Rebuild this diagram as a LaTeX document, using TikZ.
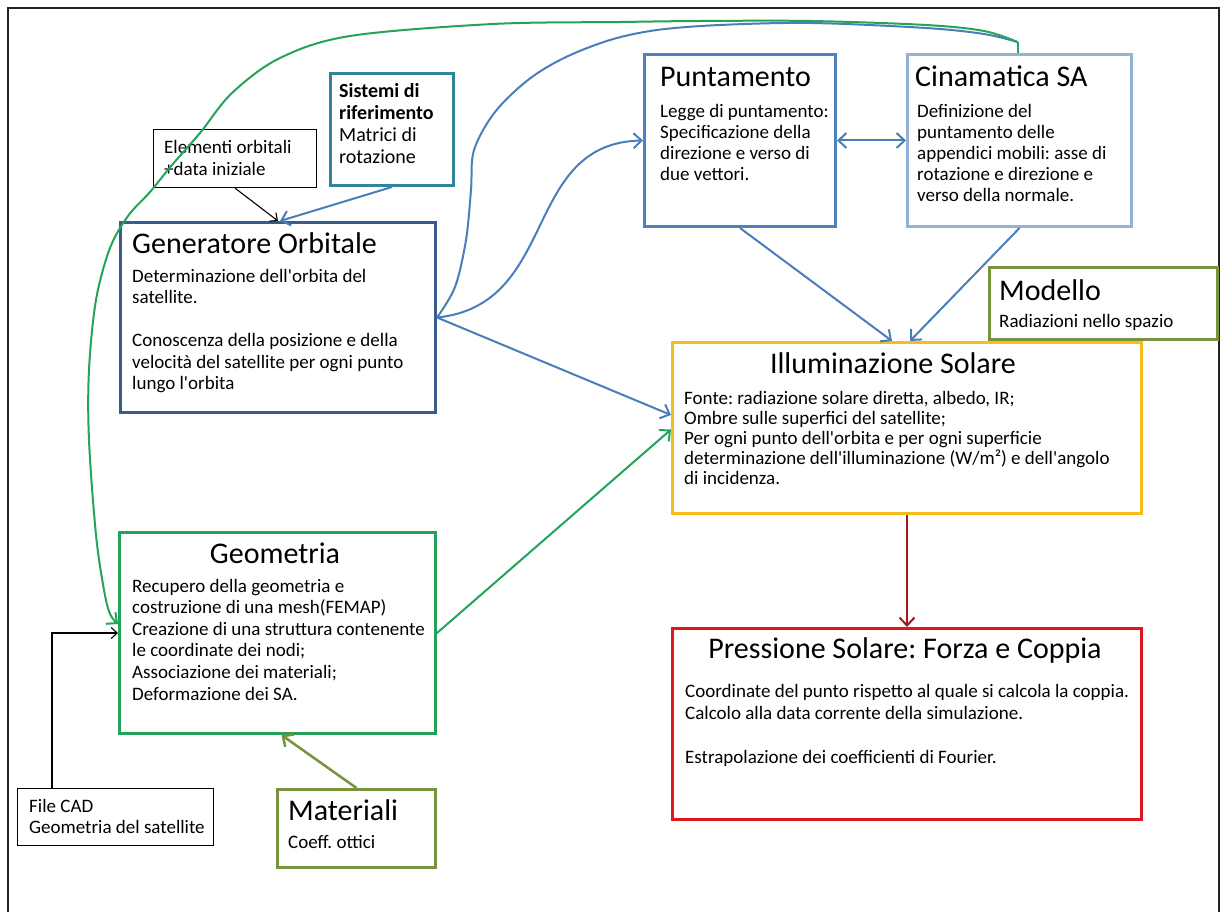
\documentclass[tikz,border=0pt]{standalone}
\usepackage{fontspec}
\setmainfont{Carlito}[Ligatures=TeXOff]
\usetikzlibrary{arrows.meta,calc}

\definecolor{framegray}{HTML}{222222}
\definecolor{genblue}{HTML}{385D8A}
\definecolor{systeal}{HTML}{31849B}
\definecolor{linkblue}{HTML}{4A7EBB}
\definecolor{puntblue}{HTML}{4F81BD}
\definecolor{cinblue}{HTML}{95B3D7}
\definecolor{modolive}{HTML}{77933C}
\definecolor{illgold}{HTML}{F5BD1F}
\definecolor{geogreen}{HTML}{24A35A}
\definecolor{pressred}{HTML}{E0161E}
\definecolor{arrowred}{HTML}{A31818}

\frenchspacing
\newcommand\ttlsize{\fontsize{30}{36}\selectfont}
\newcommand\bodysize{\fontsize{19}{21.5}\selectfont}
\newcommand\textlines[1]{\begin{tabular}[t]{@{}l@{}}#1\end{tabular}}

\tikzset{
  panel/.style={draw=#1, line width=3pt, rectangle, inner sep=0pt, anchor=north west, fill=white},
  thinpanel/.style={draw=black, line width=1.2pt, rectangle, inner sep=0pt, anchor=north west, fill=white},
  ttl/.style={font=\ttlsize, inner sep=0pt, anchor=base west},
  ttlc/.style={font=\ttlsize, inner sep=0pt, anchor=base},
  body/.style={font=\bodysize, inner sep=0pt, anchor=base west},
  tip/.style={-{Straight Barb[length=8pt,width=15pt]}},
  link/.style={draw=linkblue, line width=2pt, tip},
  curvelink/.style={draw=linkblue, line width=2pt},
  greenlink/.style={draw=geogreen, line width=2pt, tip},
  thinlink/.style={draw=black, line width=1.1pt, -{Straight Barb[length=6pt,width=11pt]}},
}

\begin{document}
\begin{tikzpicture}[x=1pt, y=-1pt]
\useasboundingbox (0,0) rectangle (1220,912);
\fill[white] (0,0) rectangle (1220,912);
\draw[framegray, line width=2pt] (8,930) -- (8,8) -- (1219,8) -- (1219,930);

% ---------- boxes ----------
\node[thinpanel, minimum width=163pt, minimum height=58pt] (elem) at (153,129) {};
\node[panel=systeal, minimum width=123pt, minimum height=112pt] (sys) at (329,72) {};
\node[panel=genblue, minimum width=315pt, minimum height=190pt] (gen) at (119,221) {};
\node[panel=puntblue, minimum width=191pt, minimum height=172pt] (punt) at (643,53) {};
\node[panel=cinblue, minimum width=224pt, minimum height=172pt] (cin) at (906,53) {};
\node[panel=modolive, minimum width=228pt, minimum height=72pt] (mod) at (988,266) {};
\node[panel=illgold, minimum width=469pt, minimum height=171pt] (ill) at (671,341) {};
\node[panel=geogreen, minimum width=316pt, minimum height=201pt] (geo) at (118,531) {};
\node[thinpanel, minimum width=196pt, minimum height=57pt] (cad) at (17,788) {};
\node[panel=modolive, minimum width=158pt, minimum height=78pt] (mat) at (276,788) {};
\node[panel=pressred, minimum width=469pt, minimum height=191pt] (press) at (671,627) {};

% ---------- texts ----------
\node[body] (elem-t) at (164,154) {\fontsize{19}{21}\selectfont\textlines{Elementi orbitali\\+data iniziale}};
\node[body] (sys-t) at (339,98) {\fontsize{20}{22}\selectfont\textlines{\textbf{Sistemi di}\\\textbf{riferimento}\\Matrici di\\rotazione}};

\node[ttl] (gen-h) at (132,253) {Generatore Orbitale};
\node[body] (gen-t) at (132,282) {\textlines{Determinazione dell'orbita del\\satellite.\\ \\Conoscenza della posizione e della\\velocità del satellite per ogni punto\\lungo l'orbita}};

\node[ttl] (punt-h) at (660,87) {Puntamento};
\node[body] (punt-t) at (660,118) {\fontsize{19}{21}\selectfont\textlines{Legge di puntamento:\\Specificazione della\\direzione e verso di\\due vettori.}};

\node[ttl] (cin-h) at (915,87) {Cinamatica SA};
\node[body] (cin-t) at (917,118) {\fontsize{19}{21}\selectfont\textlines{Definizione del\\puntamento delle\\appendici mobili: asse di\\rotazione e direzione e\\verso della normale.}};

\node[ttl] (mod-h) at (999,300) {Modello};
\node[body] (mod-t) at (999,327) {Radiazioni nello spazio};

\node[ttlc] (ill-h) at (893,373) {Illuminazione Solare};
\node[body] (ill-t) at (684,404) {\fontsize{19}{20}\selectfont\textlines{Fonte: radiazione solare diretta, albedo, IR;\\Ombre sulle superfici del satellite;\\Per ogni punto dell'orbita e per ogni superficie\\determinazione dell'illuminazione (W/m²) e dell'angolo\\di incidenza.}};

\node[ttlc] (geo-h) at (275,563) {Geometria};
\node[body] (geo-t) at (132,592) {\fontsize{19}{21.6}\selectfont\textlines{Recupero della geometria e\\costruzione di una mesh(FEMAP)\\Creazione di una struttura contenente\\le coordinate dei nodi;\\Associazione dei materiali;\\Deformazione dei SA.}};

\node[body] (cad-t) at (29,812) {\fontsize{19}{21}\selectfont\textlines{File CAD\\Geometria del satellite}};

\node[ttl] (mat-h) at (288,820) {Materiali};
\node[body] (mat-t) at (288,848) {Coeff. ottici};

\node[ttlc] (press-h) at (905,658) {Pressione Solare: Forza e Coppia};
\node[body] (press-t) at (685,697) {\fontsize{19}{22}\selectfont\textlines{Coordinate del punto rispetto al quale si calcola la coppia.\\Calcolo alla data corrente della simulazione.\\ \\Estrapolazione dei coefficienti di Fourier.}};

% ---------- connectors ----------
\coordinate (geoin) at ($(geo.west)+(0,-9)$);
\coordinate (cinjoin) at ($(cin.north)+(-2,-11)$);

% short stub on top of the kinematics box where both long curves meet
\draw[draw=geogreen, line width=2pt] (cinjoin) -- (cinjoin |- cin.north);

% curved link from the orbit generator up to the solar-array kinematics
\draw[curvelink] plot[smooth, tension=0.55] coordinates {(gen.east) (455,287) (466,240) (471,190) (474,150) (495,112) (528,80) (564,58) (610,40) (657,30) (720,25) (811,23) (926,28) (984,34) (cinjoin)};

% long green return from the kinematics to the geometry
\draw[greenlink] plot[smooth, tension=0.55] coordinates {(cinjoin) (984,31) (926,25) (811,21) (700,21) (620,22) (493,24) (350,36) (280,58) (232,93) (200,133) (172,165) (150,192) (128,216) (110,248) (96,300) (89,370) (89,440) (96,535) (104,590) (110,614) (geoin)};

\draw[thinlink] (elem.south) -- (gen.north);
\draw[link] (sys.south) -- ($(gen.north)+(2,0)$);

\draw[link] (gen.east) .. controls (560,305) and (521,143) .. (punt.west);
\draw[link] (gen.east) -- ($(ill.west)+(0,-13)$);
\draw[greenlink] (geo.east) -- ($(ill.west)+(0,1.5)$);

\draw[link, {Straight Barb[length=8pt,width=15pt]}-{Straight Barb[length=8pt,width=15pt]}] (punt.east) -- (cin.west);
\draw[link] (punt.south) -- ($(ill.north)+(-15,0)$);
\draw[link] (cin.south) -- ($(ill.north)+(3,0)$);

\draw[draw=arrowred, line width=2pt, tip] (ill.south) -- (press.north);

\draw[draw=modolive, line width=2.5pt, tip] (mat.north) -- ($(geo.south)+(4,0)$);

\draw[thinlink] ($(cad.north west)+(35,0)$) |- (geo.west);
\end{tikzpicture}
\end{document}
